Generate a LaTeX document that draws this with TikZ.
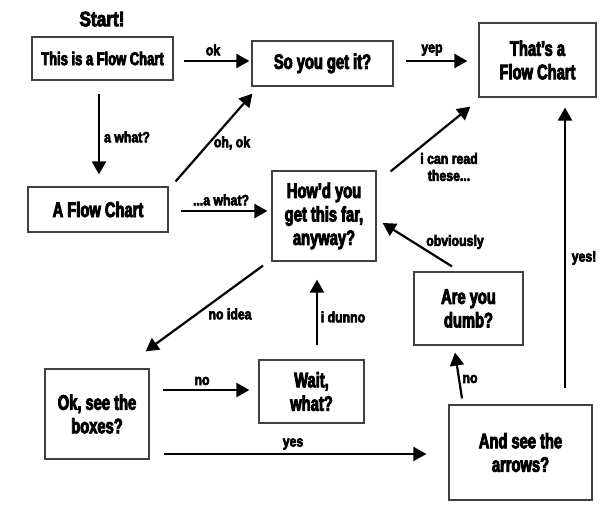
\documentclass[tikz,border=0pt]{standalone}
\usepackage{fontspec}
\setmainfont{Liberation Sans}[UprightFont={* Bold},FakeStretch=0.7,FakeBold=4]
\newfontfamily\lblfont{Liberation Sans}[UprightFont={* Bold},FakeStretch=0.82,FakeBold=4]
\usetikzlibrary{arrows.meta,calc}
\tikzset{
  fbox/.style={draw=black!75,line width=1.2pt,align=center,inner sep=0pt,
    font=\fontsize{21}{23.5}\selectfont},
  arr/.style={line width=2.2pt,-{Triangle[length=13pt,width=14pt]}},
  lbl/.style={font=\lblfont\fontsize{15}{17}\selectfont,align=center,inner sep=0pt}
}
\begin{document}
\begin{tikzpicture}[x=1pt,y=-1pt]
\useasboundingbox (0,0) rectangle (615,513);
\node[font=\lblfont\fontsize{21}{22}\selectfont] (start) at (102,19) {Start!};
\node[fbox,font=\fontsize{18.5}{23}\selectfont,minimum width=141pt,minimum height=43pt] (n1) at (102.5,58.5) {This is a Flow Chart};
\node[fbox,minimum width=141pt,minimum height=45pt] (n2) at (322.5,63.5) {So you get it?};
\node[fbox,minimum width=117pt,minimum height=74pt] (n3) at (537.5,60) {That's a\\Flow Chart};
\node[fbox,minimum width=140pt,minimum height=45pt] (n4) at (98,209.5) {A Flow Chart};
\node[fbox,minimum width=104pt,minimum height=90pt] (n5) at (324,216) {How'd you\\get this far,\\anyway?};
\node[fbox,minimum width=109pt,minimum height=73pt] (n6) at (468.5,308.5) {Are you\\dumb?};
\node[fbox,minimum width=104pt,minimum height=90pt] (n7) at (97,414) {Ok, see the\\boxes?};
\node[fbox,minimum width=105pt,minimum height=63pt] (n8) at (311.5,391.5) {Wait,\\what?};
\node[fbox,minimum width=143pt,minimum height=95pt] (n9) at (520.5,452.5) {And see the\\arrows?};

\draw[arr] ($(n1.east)+(10,2.5)$) -- ($(n2.west)+(-2,-2.5)$);
\draw[arr] ($(n1.south)+(-3.5,13)$) -- ($(n4.north)+(1,-12)$);
\draw[arr] ($(n4.north east)+(7,-5)$) -- ($(n2.south west)+(1,7)$);
\draw[arr] ($(n4.east)+(12,1.5)$) -- ($(n5.west)+(-4,-5)$);
\draw[arr] ($(n2.east)+(12,-2.5)$) -- ($(n3.west)+(-11,1)$);
\draw[arr] ($(n5.north east)+(14,1)$) -- ($(n3.south west)+(-8,9)$);
\draw[arr] ($(n6.north)+(-16.5,-5)$) -- ($(n5.east)+(6,7)$);
\draw[arr] ($(n9.north)+(44.5,-16)$) -- ($(n3.south)+(27.5,10)$);
\draw[arr] ($(n5.south)+(-61,4)$) -- ($(n7.north east)+(-4,-17)$);
\draw[arr] ($(n8.north)+(5.5,-14)$) -- ($(n5.south)+(-7,18)$);
\draw[arr] ($(n7.east)+(13,-24)$) -- ($(n8.west)+(-9,-1.5)$);
\draw[arr] ($(n7.east)+(14,40)$) -- ($(n9.west)+(-22,1.5)$);
\draw[arr] ($(n9.north)+(-58.5,-6)$) -- ($(n6.south)+(-13.5,7)$);

\node[lbl] (l1) at (213,50) {ok};
\node[lbl] (l2) at (127,137) {a what?};
\node[lbl] (l3) at (232,143) {oh, ok};
\node[lbl] (l4) at (221,200) {...a what?};
\node[lbl] (l5) at (432,50) {yep};
\node[lbl] (l6) at (449,167) {i can read\\these...};
\node[lbl] (l7) at (455,242) {obviously};
\node[lbl] (l8) at (584,258) {yes!};
\node[lbl] (l9) at (230,314) {no idea};
\node[lbl] (l10) at (343,317) {i dunno};
\node[lbl] (l11) at (202,381) {no};
\node[lbl] (l12) at (293,444) {yes};
\node[lbl] (l13) at (470,379) {no};
\end{tikzpicture}
\end{document}
